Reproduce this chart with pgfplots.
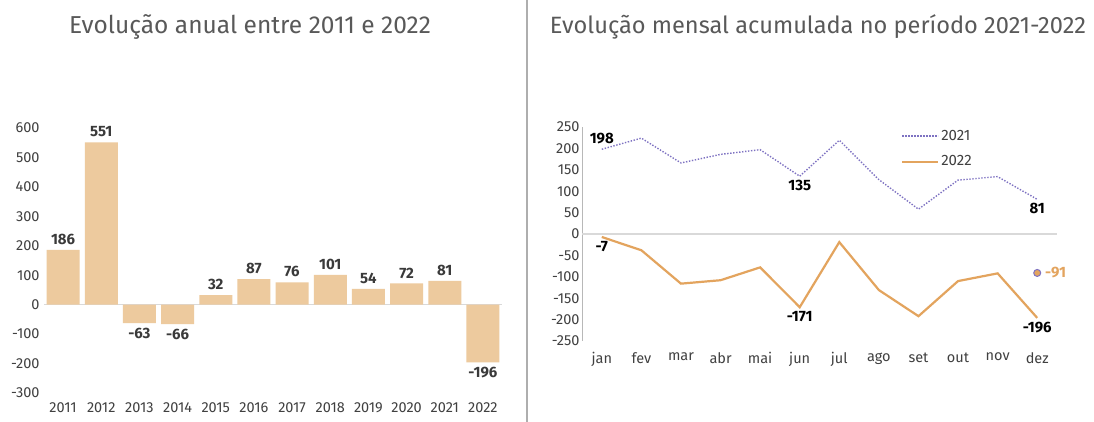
\documentclass[border=0pt]{standalone}
\usepackage{pgfplots}
\pgfplotsset{compat=1.18}
\usepackage{fontspec}
\setmainfont{Fira Sans}
\definecolor{barc}{HTML}{EDCA9E}
\definecolor{orangel}{HTML}{E3A45E}
\definecolor{purp}{HTML}{7E72C2}
\definecolor{tickc}{HTML}{404040}
\definecolor{titlec}{HTML}{595959}
\definecolor{gridc}{HTML}{D9D9D9}
\begin{document}
\begin{tikzpicture}
\useasboundingbox (0,0) rectangle (1094pt,422pt);
\fill[white] (0,0) rectangle (1094pt,422pt);
\node[font=\fontsize{24.5}{28}\selectfont, text=titlec] at (250pt,395pt) {Evolução anual entre 2011 e 2022};
\node[font=\fontsize{23.6}{28}\selectfont, text=titlec] at (818pt,395pt) {Evolução mensal acumulada no período 2021-2022};
\draw[color=gridc!80!black, line width=1.5pt] (527pt,0) -- (527pt,422pt);

\begin{axis}[
  at={(44pt,29pt)}, anchor=south west, scale only axis,
  width=458pt, height=265pt,
  xmin=-0.5, xmax=11.5, ymin=-300, ymax=600,
  clip=false,
  axis line style={draw=none},
  tick style={draw=none},
  /pgf/number format/assume math mode=true,
  xtick={0,...,11},
  xticklabels={2011,2012,2013,2014,2015,2016,2017,2018,2019,2020,2021,2022},
  ytick={-300,-200,...,600},
  yticklabels={-300,-200,-100,0,100,200,300,400,500,600},
  ticklabel style={font=\fontsize{14.5}{16}\selectfont, text=tickc},
  xticklabel style={yshift=-6pt},
  yticklabel style={xshift=-1pt},
]
\addplot[gridc, line width=1.3pt, forget plot] coordinates {(-0.5,0) (11.5,0)};
\addplot[ybar, bar width=33pt, fill=barc, draw=none,
  nodes near coords,
  nodes near coords style={font=\bfseries\fontsize{15}{17}\selectfont, text=tickc!90!black, inner sep=5pt},
] coordinates {
(0,186) (1,551) (2,-63) (3,-66) (4,32) (5,87) (6,76) (7,101) (8,54) (9,72) (10,81) (11,-196)
};
\end{axis}

\begin{axis}[
  at={(582pt,81pt)}, anchor=south west, scale only axis,
  width=475pt, height=214pt,
  xmin=-0.5, xmax=11.5, ymin=-250, ymax=250,
  clip=false,
  axis line style={draw=none},
  tick style={draw=none},
  /pgf/number format/assume math mode=true,
  xtick={0,...,11},
  xticklabels={jan,fev,mar,abr,mai,jun,jul,ago,set,out,nov,dez},
  ytick={-250,-200,...,250},
  yticklabels={-250,-200,-150,-100,-50,0,50,100,150,200,250},
  ticklabel style={font=\fontsize{14.5}{16}\selectfont, text=tickc},
  xticklabel style={yshift=-8pt},
  yticklabel style={xshift=1pt},
  legend style={draw=none, fill=none, at={(0.665,1.005)}, anchor=north west,
    font=\fontsize{15}{17}\selectfont, text=tickc, row sep=10pt},
  legend cell align=left,
  legend image code/.code={\draw[#1] (0pt,0pt) -- (36pt,0pt);},
]
\addplot[gridc!85!black, line width=1pt, forget plot] coordinates {(-0.5,-250) (-0.5,250)};
\addplot[gridc, line width=1.3pt, forget plot] coordinates {(-0.5,0) (11.5,0)};
\addplot[purp, line width=1.4pt, dash pattern=on 1.4pt off 1.6pt] coordinates {
(0,198) (1,224) (2,166) (3,186) (4,197) (5,135) (6,219) (7,127) (8,58) (9,126) (10,134) (11,81)
};
\addlegendentry{2021}
\addplot[orangel, line width=2.2pt] coordinates {
(0,-7) (1,-38) (2,-116) (3,-108) (4,-78) (5,-171) (6,-19) (7,-131) (8,-192) (9,-110) (10,-92) (11,-196)
};
\addlegendentry{2022}
\addplot[forget plot, only marks, mark=*, mark size=3.5pt, mark options={draw=purp, fill=orangel, line width=1pt},
  nodes near coords, nodes near coords style={anchor=west, xshift=4pt, text=orangel, font=\bfseries\fontsize{15}{17}\selectfont}]
  coordinates {(11,-91)};
\addplot[forget plot, draw=none, mark=none,
  nodes near coords, nodes near coords style={anchor=south, inner sep=5pt, text=black, font=\bfseries\fontsize{15}{17}\selectfont}]
  coordinates {(0,198)};
\addplot[forget plot, draw=none, mark=none,
  nodes near coords, nodes near coords style={anchor=north, inner sep=4pt, text=black, font=\bfseries\fontsize{15}{17}\selectfont}]
  coordinates {(5,135) (11,81) (0,-7) (5,-171) (11,-196)};
\end{axis}
\end{tikzpicture}
\end{document}
